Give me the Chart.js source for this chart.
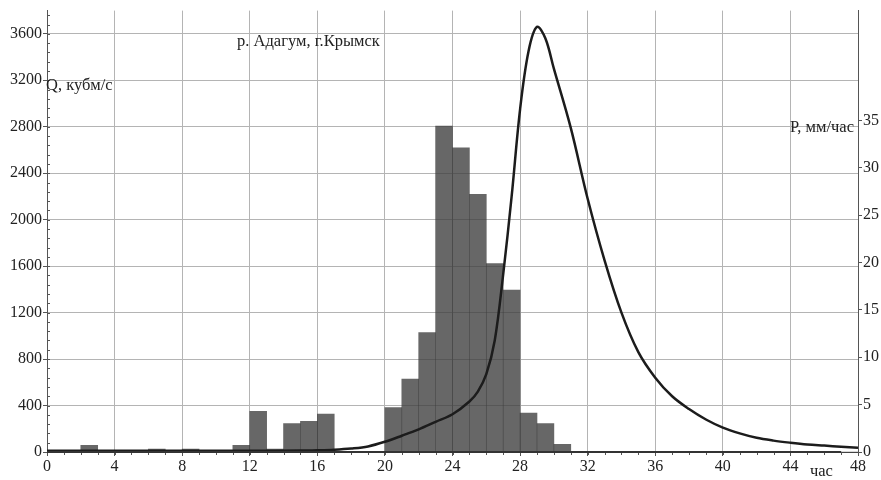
<!DOCTYPE html>
<html>
<head>
<meta charset="utf-8">
<script src="https://cdn.jsdelivr.net/npm/chart.js@4"></script>
<style>
  html, body { margin: 0; padding: 0; background: #fff; }
  #wrap { width: 881px; height: 480px; }
</style>
</head>
<body>
<div id="wrap"><canvas id="flood"></canvas></div>
<script>
// --- data ---
// precipitation per hour (bar from h to h+1), mm/hour
const rainHours = [...Array(48).keys()];
const rainValues = [
  0, 0, 0.7, 0, 0, 0, 0.3, 0, 0.3, 0,
  0, 0.7, 4.3, 0.3, 3.0, 3.25, 4.0, 0, 0, 0,
  4.7, 7.7, 12.6, 34.4, 32.1, 27.2, 19.9, 17.1, 4.1, 3.0,
  0.8, 0, 0, 0, 0, 0, 0, 0, 0, 0,
  0, 0, 0, 0, 0, 0, 0, 0
];
// discharge Q, m3/s
const flowHours = [0, 4, 8, 12, 15, 16, 17, 18, 19, 20, 21, 22, 23, 24, 25, 25.5, 26, 26.5, 27, 27.5, 28, 28.5, 29, 29.5, 30, 31, 32, 33, 34, 35, 36, 37, 38, 39, 40, 41, 42, 43, 44, 45, 46, 47, 48];
const flowValues = [10, 10, 10, 10, 12, 15, 20, 30, 48, 88, 140, 195, 260, 325, 435, 520, 670, 960, 1530, 2200, 2950, 3450, 3660, 3560, 3300, 2790, 2180, 1650, 1200, 860, 640, 480, 370, 280, 210, 160, 122, 98, 80, 65, 55, 45, 37];

const hourTicks = [0, 4, 8, 12, 16, 20, 24, 28, 32, 36, 40, 44, 48];
const flowTicks = [0, 400, 800, 1200, 1600, 2000, 2400, 2800, 3200, 3600];
const rainTicks = [0, 5, 10, 15, 20, 25, 30, 35];

const FONT = 'Liberation Serif, Times New Roman, serif';

// minor ticks + free text labels
const extras = {
    id: 'extras',
    afterDraw(chart) {
        const { ctx, chartArea, scales } = chart;
        const x = scales.x, y = scales.y;
        ctx.save();
        ctx.strokeStyle = '#555';
        ctx.lineWidth = 1;
        ctx.beginPath();
        for (let h = 0; h <= 48; h++) {
            const px = Math.round(x.getPixelForValue(h)) + 0.5;
            ctx.moveTo(px, chartArea.bottom);
            ctx.lineTo(px, chartArea.bottom + 3);
        }
        for (let v = 0; v <= 3800; v += 80) {
            const py = Math.round(y.getPixelForValue(v)) + 0.5;
            ctx.moveTo(chartArea.left, py);
            ctx.lineTo(chartArea.left + 3, py);
        }
        ctx.stroke();

        // bold baseline
        ctx.strokeStyle = '#333';
        ctx.lineWidth = 2;
        ctx.beginPath();
        ctx.moveTo(x.getPixelForValue(0), chartArea.bottom);
        ctx.lineTo(x.getPixelForValue(47), chartArea.bottom);
        ctx.stroke();

        ctx.fillStyle = '#222';
        ctx.font = '16.5px ' + FONT;
        ctx.textBaseline = 'middle';
        ctx.textAlign = 'left';
        ctx.fillText('р. Адагум, г.Крымск', 237, 42);
        ctx.fillText('Q, кубм/с', 46, 86);
        ctx.textAlign = 'right';
        ctx.fillText('P, мм/час', 854, 128);
        ctx.textAlign = 'left';
        ctx.fillText('час', 810, 472);
        ctx.restore();
    }
};

const plain = v => String(v);

const ctx = document.getElementById('flood').getContext('2d');
new Chart(ctx, {
    data: {
        datasets: [
            {
                type: 'line',
                label: 'Q',
                data: flowHours.map((h, i) => ({ x: h, y: flowValues[i] })),
                yAxisID: 'y',
                borderColor: '#1c1c1c',
                borderWidth: 2.5,
                pointRadius: 0,
                tension: 0.35,
                order: 0
            },
            {
                type: 'bar',
                label: 'P',
                data: rainHours.map((h, i) => ({ x: h + 0.5, y: rainValues[i] })),
                yAxisID: 'y2',
                backgroundColor: 'rgba(60,60,60,0.78)',
                borderWidth: 0,
                barPercentage: 1,
                categoryPercentage: 1,
                order: 1
            }
        ]
    },
    options: {
        responsive: true,
        maintainAspectRatio: false,
        animation: false,
        layout: { padding: { top: 8, left: 0, right: 0, bottom: 0 } },
        plugins: { legend: { display: false }, tooltip: { enabled: false } },
        scales: {
            x: {
                type: 'linear',
                min: 0,
                max: 48,
                offset: false,
                afterBuildTicks: s => { s.ticks = hourTicks.map(v => ({ value: v })); },
                afterFit: s => { s.height = 28; },
                grid: { color: '#b4b4b4', tickLength: 4, tickColor: '#555', offset: false },
                border: { color: '#444', width: 1 },
                ticks: { color: '#222', font: { family: FONT, size: 16 }, padding: 1, maxRotation: 0, autoSkip: false, callback: plain }
            },
            y: {
                position: 'left',
                min: 0,
                max: 3800,
                afterBuildTicks: s => { s.ticks = flowTicks.map(v => ({ value: v })); },
                afterFit: s => { s.width = 47; },
                grid: { color: '#b4b4b4', tickLength: 4, tickColor: '#555' },
                border: { color: '#555', width: 1 },
                ticks: { color: '#222', font: { family: FONT, size: 16 }, padding: 1, callback: plain }
            },
            y2: {
                position: 'right',
                min: 0,
                max: 46.6,
                afterBuildTicks: s => { s.ticks = rainTicks.map(v => ({ value: v })); },
                afterFit: s => { s.width = 23; },
                grid: { drawOnChartArea: false, tickLength: 4, color: '#555' },
                border: { color: '#555', width: 1 },
                ticks: { color: '#222', font: { family: FONT, size: 16 }, padding: 1, callback: plain }
            }
        }
    },
    plugins: [extras]
});
</script>
</body>
</html>
